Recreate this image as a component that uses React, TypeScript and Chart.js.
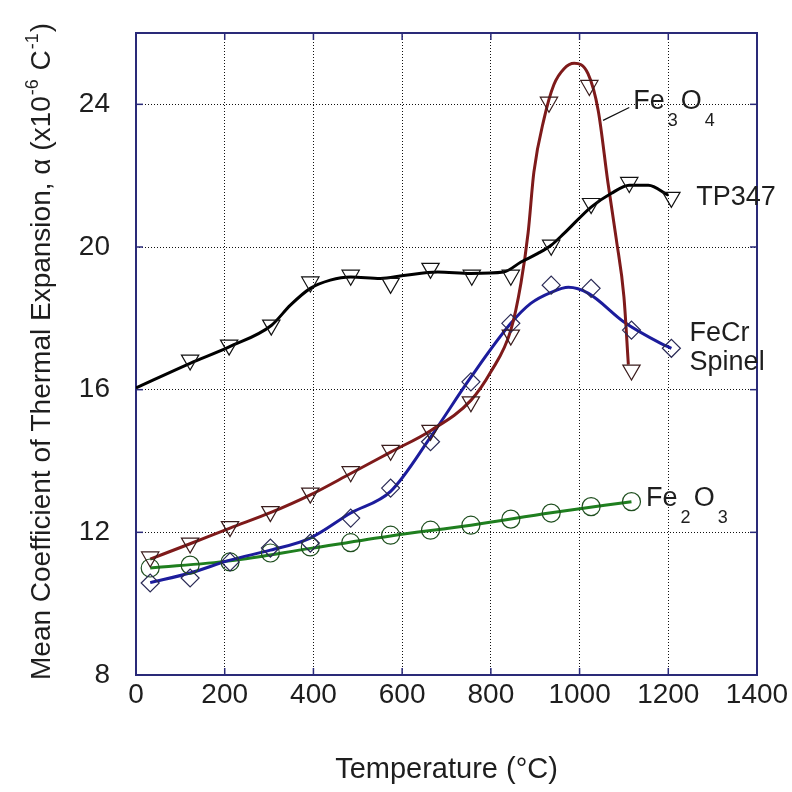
import React, { useEffect, useRef } from "react";
import { Chart, registerables } from "chart.js";

Chart.register(...registerables);

// ---- axes ----
const xTicks = [0, 200, 400, 600, 800, 1000, 1200, 1400];
const yTicks = [8, 12, 16, 20, 24];
const xMin = 0;
const xMax = 1400;
const yMin = 8;
const yMax = 26;
const xTitle = "Temperature (°C)";

// ---- TP347 (measured points) ----
const tp347Temp = [122, 210, 305, 393, 484, 574, 664, 757, 845, 936, 1026, 1112, 1207];
const tp347Alpha = [16.83, 17.25, 17.81, 19.02, 19.21, 18.98, 19.4, 19.21, 19.21, 20.05, 21.22, 21.81, 21.39];
// TP347 fitted curve
const tp347CurveTemp = [0, 122, 210, 305, 348, 393, 438, 484, 551, 603, 680, 755, 829, 868, 906, 936, 965, 1026, 1071, 1112, 1155, 1200];
const tp347CurveAlpha = [16.05, 16.74, 17.2, 17.8, 18.37, 18.84, 19.07, 19.16, 19.12, 19.2, 19.3, 19.26, 19.3, 19.58, 19.82, 20.05, 20.38, 21.12, 21.5, 21.73, 21.73, 21.45];

// ---- Fe3O4 ----
const fe3o4Temp = [32, 122, 212, 303, 393, 484, 574, 664, 755, 845, 931, 1022, 1117];
const fe3o4Alpha = [11.31, 11.7, 12.16, 12.58, 13.1, 13.7, 14.3, 14.86, 15.66, 17.53, 24.06, 24.53, 16.55];
const fe3o4CurveTemp = [32, 122, 212, 303, 393, 484, 574, 664, 755, 800, 845, 868, 884, 897, 920, 942, 965, 988, 1019, 1042, 1064, 1083, 1100, 1110];
const fe3o4CurveAlpha = [11.25, 11.68, 12.12, 12.55, 13.05, 13.65, 14.25, 14.85, 15.7, 16.5, 17.67, 19.0, 20.4, 22.1, 23.6, 24.55, 25.0, 25.15, 24.86, 23.83, 21.8, 20.2, 18.6, 16.7];

// ---- FeCr Spinel ----
const fecrTemp = [32, 122, 212, 303, 393, 484, 574, 664, 755, 845, 936, 1026, 1117, 1207];
const fecrAlpha = [10.58, 10.72, 11.17, 11.56, 11.7, 12.4, 13.24, 14.54, 16.22, 17.86, 18.93, 18.84, 17.67, 17.16];
const fecrCurveTemp = [32, 122, 212, 303, 393, 484, 574, 664, 755, 845, 890, 936, 975, 1020, 1100, 1183, 1207];
const fecrCurveAlpha = [10.59, 10.86, 11.22, 11.5, 11.84, 12.54, 13.15, 14.67, 16.35, 17.86, 18.42, 18.73, 18.87, 18.7, 17.9, 17.3, 17.16];

// ---- Fe2O3 ----
const fe2o3Temp = [32, 122, 212, 303, 393, 484, 574, 664, 755, 845, 936, 1026, 1117];
const fe2o3Alpha = [11.0, 11.08, 11.17, 11.42, 11.59, 11.71, 11.92, 12.06, 12.2, 12.37, 12.54, 12.72, 12.86];
const fe2o3CurveTemp = [32, 212, 393, 574, 755, 936, 1117];
const fe2o3CurveAlpha = [11.0, 11.2, 11.55, 11.9, 12.2, 12.55, 12.86];

// ---- text pieces ----
type Part = { t: string; sub?: boolean; sup?: boolean };
const yTitleParts: Part[] = [
  { t: "Mean Coefficient of Thermal Expansion, α (x10" },
  { t: "-6", sup: true },
  { t: " C" },
  { t: "-1", sup: true },
  { t: ")" },
];
const seriesLabels: { parts: Part[]; x: number; y: number }[] = [
  { parts: [{ t: "Fe" }, { t: "3", sub: true }, { t: "O" }, { t: "4", sub: true }], x: 1121, y: 24.08 },
  { parts: [{ t: "TP347" }], x: 1263, y: 21.39 },
  { parts: [{ t: "FeCr" }], x: 1248, y: 17.58 },
  { parts: [{ t: "Spinel" }], x: 1248, y: 16.77 },
  { parts: [{ t: "Fe" }, { t: "2", sub: true }, { t: "O" }, { t: "3", sub: true }], x: 1150, y: 12.96 },
];
const leaderFrom = { x: 1112, y: 23.91 };
const leaderTo = { x: 1053, y: 23.55 };

const FONT = "'Liberation Sans', Arial, Helvetica, sans-serif";
const TEXT = "#1e1e1e";
const FRAME = "#2a2a78";

const C_TP = "#000000";
const C_FE3 = "#7e1a1a";
const C_FECR = "#1c1c9c";
const C_FE2 = "#1f7f1f";

const toXY = (xs: number[], ys: number[]) => xs.map((x, i) => ({ x, y: ys[i] }));

const curve = (label: string, xs: number[], ys: number[], color: string) => ({
  label,
  data: toXY(xs, ys),
  showLine: true,
  borderColor: color,
  borderWidth: 3,
  pointRadius: 0,
  pointHoverRadius: 0,
  cubicInterpolationMode: "monotone",
  fill: false,
  order: 2,
});

const markers = (label: string, xs: number[], ys: number[], style: string, rotation: number, color: string, radius: number) => ({
  label,
  data: toXY(xs, ys),
  showLine: false,
  pointStyle: style,
  rotation,
  pointRadius: radius,
  pointHoverRadius: radius,
  pointBorderColor: color,
  pointBackgroundColor: "rgba(0,0,0,0)",
  pointBorderWidth: 1.2,
  order: 1,
});

const framePlugin = {
  id: "frame",
  beforeDatasetsDraw(chart: any) {
    const { ctx, chartArea, scales } = chart;
    const { left, right, top, bottom } = chartArea;
    const sx = scales.x;
    const sy = scales.y;
    ctx.save();
    ctx.strokeStyle = FRAME;
    ctx.lineWidth = 2;
    ctx.strokeRect(left, top, right - left, bottom - top);
    ctx.lineWidth = 1.5;
    const seg = (a: number, b: number, c: number, d: number) => {
      ctx.beginPath();
      ctx.moveTo(a, b);
      ctx.lineTo(c, d);
      ctx.stroke();
    };
    xTicks.forEach((v) => {
      const px = sx.getPixelForValue(v);
      seg(px, bottom, px, bottom - 7);
      seg(px, top, px, top + 7);
    });
    yTicks.forEach((v) => {
      const py = sy.getPixelForValue(v);
      seg(left, py, left + 7, py);
      seg(right, py, right - 7, py);
    });
    ctx.restore();
  },
};

const labelPlugin = {
  id: "seriesLabels",
  afterDatasetsDraw(chart: any) {
    const { ctx, scales, chartArea } = chart;
    const sx = scales.x;
    const sy = scales.y;
    ctx.save();
    ctx.fillStyle = TEXT;
    ctx.textBaseline = "middle";
    ctx.textAlign = "left";
    seriesLabels.forEach((lab) => {
      let px = sx.getPixelForValue(lab.x);
      const py = sy.getPixelForValue(lab.y);
      lab.parts.forEach((p) => {
        if (p.sub) {
          ctx.font = `18px ${FONT}`;
          px += 3;
          ctx.fillText(p.t, px, py + 20);
          px += ctx.measureText(p.t).width + 3;
        } else {
          ctx.font = `27px ${FONT}`;
          ctx.fillText(p.t, px, py);
          px += ctx.measureText(p.t).width;
        }
      });
    });
    ctx.strokeStyle = "#111";
    ctx.lineWidth = 1.2;
    ctx.beginPath();
    ctx.moveTo(sx.getPixelForValue(leaderFrom.x), sy.getPixelForValue(leaderFrom.y));
    ctx.lineTo(sx.getPixelForValue(leaderTo.x), sy.getPixelForValue(leaderTo.y));
    ctx.stroke();

    // rotated y-axis title with superscripts
    ctx.translate(chartArea.left - 86, chartArea.bottom + 5);
    ctx.rotate(-Math.PI / 2);
    ctx.textBaseline = "alphabetic";
    let tx = 0;
    yTitleParts.forEach((p) => {
      if (p.sup) {
        ctx.font = `18px ${FONT}`;
        ctx.fillText(p.t, tx + 1, -12);
        tx += ctx.measureText(p.t).width + 2;
      } else {
        ctx.font = `28px ${FONT}`;
        ctx.fillText(p.t, tx, 0);
        tx += ctx.measureText(p.t).width;
      }
    });
    ctx.restore();
  },
};

export default function App() {
  const ref = useRef<HTMLCanvasElement | null>(null);

  useEffect(() => {
    if (!ref.current) return;
    const chart = new Chart(ref.current, {
      type: "scatter",
      data: {
        datasets: [
          curve("TP347 fit", tp347CurveTemp, tp347CurveAlpha, C_TP),
          curve("Fe3O4 fit", fe3o4CurveTemp, fe3o4CurveAlpha, C_FE3),
          curve("FeCr Spinel fit", fecrCurveTemp, fecrCurveAlpha, C_FECR),
          curve("Fe2O3 fit", fe2o3CurveTemp, fe2o3CurveAlpha, C_FE2),
          markers("TP347", tp347Temp, tp347Alpha, "triangle", 180, "#111111", 10),
          markers("Fe3O4", fe3o4Temp, fe3o4Alpha, "triangle", 180, "#3a1c1c", 10),
          markers("FeCr Spinel", fecrTemp, fecrAlpha, "rectRot", 0, "#2a2a55", 9),
          markers("Fe2O3", fe2o3Temp, fe2o3Alpha, "circle", 0, "#1f4f1f", 9),
        ] as any,
      },
      options: {
        responsive: false,
        animation: false,
        events: [],
        layout: { padding: { left: 0, top: 33, right: 35, bottom: 0 } },
        plugins: {
          legend: { display: false },
          tooltip: { enabled: false },
        },
        scales: {
          x: {
            type: "linear",
            min: xMin,
            max: xMax,
            afterBuildTicks: (s: any) => {
              s.ticks = xTicks.map((v) => ({ value: v }));
            },
            afterFit: (s: any) => {
              s.height = 117;
              s.paddingLeft = 0;
              s.paddingRight = 0;
            },
            ticks: {
              color: TEXT,
              font: { family: FONT, size: 28 },
              padding: 3,
              maxRotation: 0,
              autoSkip: false,
              callback: (v: any) => String(v),
            },
            grid: { color: "#111", lineWidth: 1, drawTicks: false },
            border: { display: false, dash: [1, 2] },
            title: {
              display: true,
              text: xTitle,
              color: TEXT,
              font: { family: FONT, size: 29 },
              padding: { top: 0, bottom: 5 },
            },
          },
          y: {
            type: "linear",
            min: yMin,
            max: yMax,
            afterBuildTicks: (s: any) => {
              s.ticks = yTicks.map((v) => ({ value: v }));
            },
            afterFit: (s: any) => {
              s.width = 136;
              s.paddingTop = 0;
              s.paddingBottom = 0;
            },
            ticks: {
              color: TEXT,
              font: { family: FONT, size: 28 },
              padding: 26,
              autoSkip: false,
              callback: (v: any) => String(v),
            },
            grid: { color: "#111", lineWidth: 1, drawTicks: false },
            border: { display: false, dash: [1, 2] },
            title: { display: false },
          },
        },
      },
      plugins: [framePlugin, labelPlugin],
    } as any);
    return () => chart.destroy();
  }, []);

  return (
    <canvas
      ref={ref}
      width={792}
      height={792}
      style={{ position: "absolute", left: 0, top: 0, width: 792, height: 792 }}
    />
  );
}
